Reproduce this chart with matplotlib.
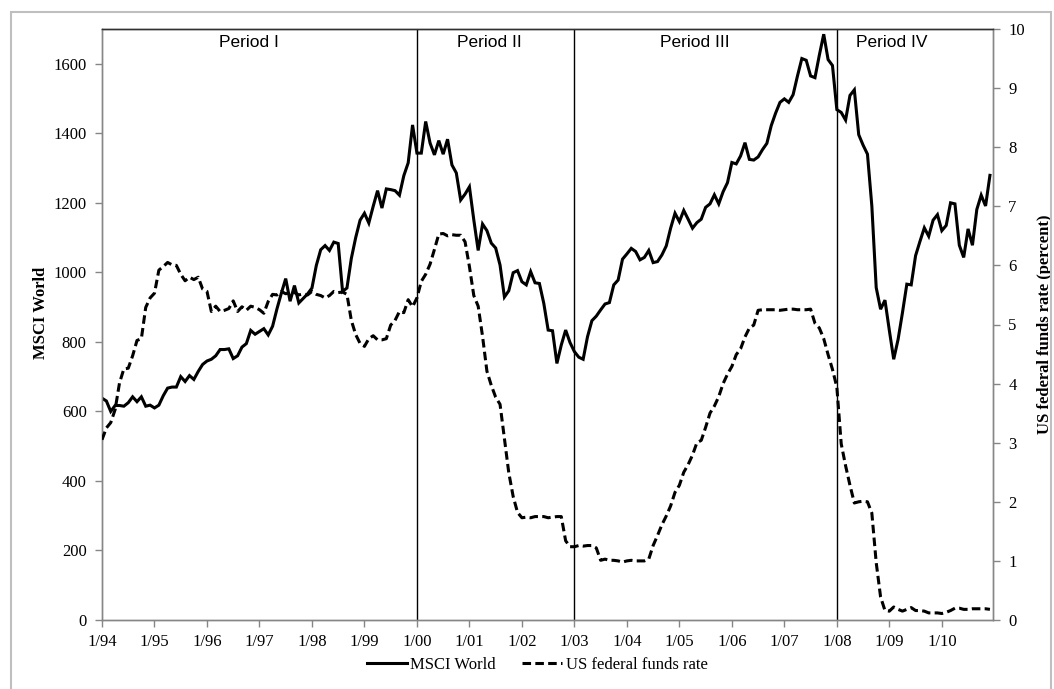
import numpy as np
import matplotlib
matplotlib.use('Agg')
import matplotlib.pyplot as plt
from matplotlib.patches import Rectangle
from matplotlib.lines import Line2D

# MSCI World, monthly 1/94 - 12/10
msci = [
    638, 630, 600, 617, 617, 615, 625, 642, 628, 642, 615, 618,
    610, 618, 645, 667, 670, 670, 700, 686, 703, 692, 715, 735,
    745, 750, 760, 778, 778, 780, 752, 760, 785, 795, 833, 822,
    830, 838, 820, 845, 895, 940, 982, 917, 962, 912, 925, 938,
    955, 1020, 1065, 1077, 1063, 1087, 1083, 945, 955, 1040, 1100, 1150,
    1170, 1142, 1190, 1235, 1185, 1240, 1238, 1235, 1222, 1278, 1315, 1424,
    1343, 1343, 1434, 1372, 1338, 1379, 1340, 1383, 1309, 1286, 1208, 1225,
    1246, 1151, 1063, 1139, 1120, 1084, 1070, 1021, 929, 947, 999, 1005,
    973, 964, 1002, 970, 968, 911, 834, 832, 738, 791, 834, 798,
    772, 756, 750, 815, 861, 874, 892, 909, 913, 964, 978, 1038,
    1053, 1069, 1060, 1036, 1043, 1063, 1028, 1031, 1050, 1076, 1127, 1170,
    1146, 1178, 1153, 1127, 1143, 1153, 1187, 1197, 1223, 1197, 1232, 1258,
    1316, 1312, 1335, 1373, 1325, 1323, 1332, 1353, 1371, 1422, 1458, 1489,
    1499, 1489, 1511, 1565, 1615, 1610, 1565, 1560, 1625, 1685, 1612, 1595,
    1468, 1460, 1438, 1509, 1525, 1396, 1366, 1340, 1191, 956, 894, 920,
    833, 750, 807, 884, 966, 964, 1048, 1089, 1128, 1104, 1150, 1166,
    1120, 1135, 1200, 1197, 1078, 1043, 1125, 1078, 1181, 1222, 1191, 1279,
]

# US federal funds rate (percent), monthly 1/94 - 12/10
fed = [
    3.05, 3.25, 3.34, 3.56, 4.01, 4.25, 4.26, 4.47, 4.73, 4.76, 5.29, 5.45,
    5.53, 5.92, 5.98, 6.05, 6.01, 6.00, 5.85, 5.74, 5.80, 5.76, 5.80, 5.60,
    5.56, 5.22, 5.31, 5.22, 5.24, 5.27, 5.40, 5.22, 5.30, 5.24, 5.31, 5.29,
    5.25, 5.19, 5.39, 5.51, 5.50, 5.56, 5.52, 5.54, 5.54, 5.50, 5.52, 5.50,
    5.56, 5.51, 5.49, 5.45, 5.49, 5.56, 5.54, 5.55, 5.51, 5.07, 4.83, 4.68,
    4.63, 4.76, 4.81, 4.74, 4.74, 4.76, 4.99, 5.07, 5.22, 5.20, 5.42, 5.30,
    5.45, 5.73, 5.85, 6.02, 6.27, 6.53, 6.54, 6.50, 6.52, 6.51, 6.51, 6.40,
    5.98, 5.49, 5.31, 4.80, 4.21, 3.97, 3.77, 3.65, 3.07, 2.49, 2.09, 1.82,
    1.73, 1.74, 1.73, 1.75, 1.75, 1.75, 1.73, 1.74, 1.75, 1.75, 1.34, 1.24,
    1.24, 1.26, 1.25, 1.26, 1.26, 1.22, 1.01, 1.03, 1.01, 1.01, 1.00, 0.98,
    1.00, 1.01, 1.00, 1.00, 1.00, 1.03, 1.26, 1.43, 1.61, 1.76, 1.93, 2.16,
    2.28, 2.50, 2.63, 2.79, 3.00, 3.04, 3.26, 3.50, 3.62, 3.78, 4.00, 4.16,
    4.29, 4.49, 4.59, 4.79, 4.94, 4.99, 5.24, 5.25, 5.25, 5.25, 5.25, 5.24,
    5.25, 5.26, 5.26, 5.25, 5.25, 5.25, 5.26, 5.02, 4.94, 4.76, 4.49, 4.24,
    3.94, 2.98, 2.61, 2.28, 1.98, 2.00, 2.01, 2.00, 1.81, 0.97, 0.39, 0.16,
    0.15, 0.22, 0.18, 0.15, 0.18, 0.21, 0.16, 0.16, 0.15, 0.12, 0.12, 0.12,
    0.11, 0.13, 0.16, 0.20, 0.20, 0.18, 0.18, 0.19, 0.19, 0.19, 0.19, 0.18,
]

year_labels = ['1/94', '1/95', '1/96', '1/97', '1/98', '1/99', '1/00', '1/01', '1/02',
               '1/03', '1/04', '1/05', '1/06', '1/07', '1/08', '1/09', '1/10']
period_names = ['Period I', 'Period II', 'Period III', 'Period IV']
period_start_labels = ['1/00', '1/03', '1/08']

SERIF = ['Liberation Serif', 'DejaVu Serif']
SANS = ['Liberation Sans', 'DejaVu Sans']
plt.rcParams['font.family'] = SERIF

W, H = 1054, 689
fig = plt.figure(figsize=(W / 100, H / 100), dpi=100)
fig.patch.set_facecolor('white')

# outer chart frame
fig.patches.append(Rectangle((11 / W, -0.02), (1051 - 11) / W, (H - 12) / H + 0.02,
                             transform=fig.transFigure, fill=False,
                             edgecolor='#bfbfbf', lw=1.5))

L, R, T, B = 102, 993, 29, 620
ax = fig.add_axes([L / W, (H - B) / H, (R - L) / W, (B - T) / H])
ax2 = ax.twinx()

x = np.arange(len(msci))
ax.plot(x, msci, color='black', lw=2.2, solid_joinstyle='miter', zorder=3)
ax2.plot(x, fed, color='black', lw=2.2, linestyle=(0, (2.8, 1.4)), zorder=3)

ax.set_xlim(0, len(msci) - 0.3)
ax.set_ylim(0, 1700)
ax2.set_ylim(0, 10)
ax.set_yticks(np.arange(0, 1601, 200))
ax2.set_yticks(np.arange(0, 11, 1))
tick_pos = [12 * i for i in range(len(year_labels))]
ax.set_xticks(tick_pos)
ax.set_xticklabels(year_labels)

# period separators and labels
for lab in period_start_labels:
    ax.axvline(tick_pos[year_labels.index(lab)], color='black', lw=1.0, zorder=2)
label_x = [33.5, 88.5, 135.5, 180.5]
for name, xp in zip(period_names, label_x):
    ax.text(xp, 1660, name, ha='center', va='center', fontsize=12.5,
            family=SANS, color='black')

gray = '#868686'
for a in (ax, ax2):
    for s in ('left', 'right', 'bottom'):
        a.spines[s].set_color(gray)
        a.spines[s].set_linewidth(1.0)
    a.spines['top'].set_color('#303030')
    a.spines['top'].set_linewidth(1.0)
    a.tick_params(direction='out', length=5, width=1.0, color=gray,
                  labelsize=12, pad=6)
ax.tick_params(axis='x', pad=5)

ax.set_ylabel('MSCI World', fontsize=12, fontweight='bold')
ax2.set_ylabel('US federal funds rate (percent)', fontsize=12, fontweight='bold')
ax.yaxis.set_label_coords(-0.06, 0.52)
ax2.yaxis.set_label_coords(1.049, 0.50)

handles = [Line2D([], [], color='black', lw=2.2),
           Line2D([], [], color='black', lw=2.2, linestyle=(0, (2.8, 1.4)))]
fig.legend(handles, ['MSCI World', 'US federal funds rate'], loc='center',
           bbox_to_anchor=(537 / W, 1 - 665 / H), ncol=2, frameon=False,
           fontsize=12, handlelength=2.4, handletextpad=0.2, columnspacing=1.6)

fig.savefig('out.png', dpi=100)
